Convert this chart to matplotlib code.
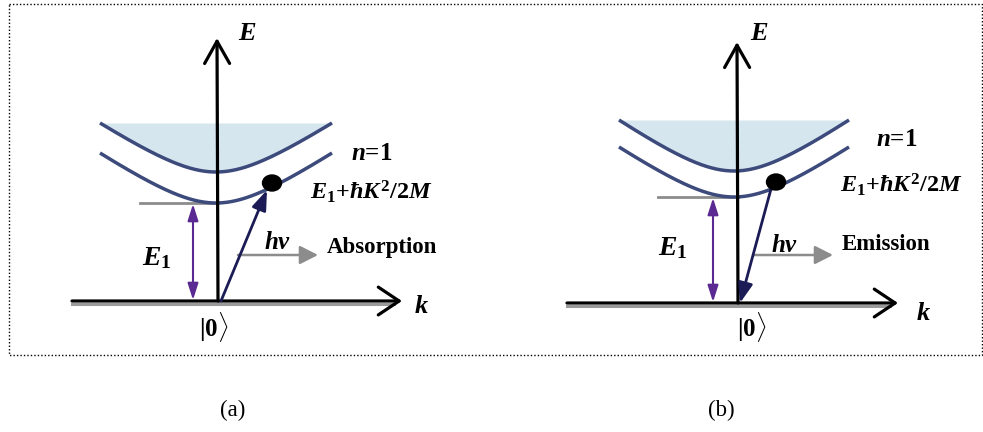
import matplotlib
matplotlib.use("Agg")
import matplotlib.pyplot as plt
import numpy as np
from matplotlib.patches import Ellipse, Rectangle

plt.rcParams["mathtext.fontset"] = "custom"
plt.rcParams["mathtext.it"] = "Liberation Serif:italic:bold"
plt.rcParams["mathtext.rm"] = "Liberation Serif:bold"
plt.rcParams["mathtext.bf"] = "Liberation Serif:bold"

# diagram geometry, in picture pixels (x right, y down)
panel_labels = ["(a)", "(b)"]
process_labels = ["Absorption", "Emission"]
origin_x = [218, 738]
kaxis_y = [301, 303]
kaxis_x0 = [72, 567]
kaxis_x1 = [402, 898]
eaxis_top = [38, 42]
band_center = [216, 734]
band_halfwidth = [116, 115]
upper_min = [172, 171]
upper_top = [123, 120]
lower_min = [203, 197]
lower_top = [153, 147]
dot_xy = [(272, 183), (776, 182)]
level_x0 = [140, 658]
e1_arrow_x = [193, 713]
hv_y = [255, 255]
hv_x0 = [238, 753]
hv_x1 = [318, 833]

BAND = "#3c4a7c"
FILL = "#d6e6ee"
GRAY = "#8c8c8c"
PURPLE = "#5a2a92"
NAVY = "#1b1b55"
SERIF = "Liberation Serif"


def band(xc, half, ymin, ytop, s=55.0):
    x = np.linspace(xc - half, xc + half, 200)
    a = (ymin - ytop) / (np.sqrt(1 + (half / s) ** 2) - 1)
    y = ymin - a * (np.sqrt(1 + ((x - xc) / s) ** 2) - 1)
    return x, y


fig = plt.figure(figsize=(9.83, 4.32), dpi=100)
ax = fig.add_axes([0, 0, 1, 1])
ax.set_xlim(0, 983)
ax.set_ylim(432, 0)
ax.axis("off")

# dotted frame
ax.add_patch(Rectangle((9, 4), 973, 351, fill=False, linestyle=(0, (1, 1.5)),
                       linewidth=1.0, edgecolor="black"))

for i in range(2):
    ox, ky = origin_x[i], kaxis_y[i]

    # bands
    xu, yu = band(band_center[i], band_halfwidth[i], upper_min[i], upper_top[i])
    ax.fill_between(xu, yu, upper_top[i], color=FILL, zorder=1, linewidth=0)
    ax.plot(xu, yu, color=BAND, lw=2.5, zorder=3, solid_capstyle="butt")
    xl, yl = band(band_center[i], band_halfwidth[i], lower_min[i], lower_top[i])
    ax.plot(xl, yl, color=BAND, lw=2.5, zorder=3, solid_capstyle="butt")

    # E1 level line
    ax.plot([level_x0[i], ox], [lower_min[i], lower_min[i]], color=GRAY, lw=2.0, zorder=2)

    # k axis with shadow
    ax.plot([kaxis_x0[i], kaxis_x1[i] - 8], [ky + 3, ky + 3], color="#9a9a9a", lw=2.2, zorder=2)
    ax.annotate("", xy=(kaxis_x1[i], ky), xytext=(kaxis_x0[i], ky),
                arrowprops=dict(arrowstyle="->,head_length=0.75,head_width=0.5",
                                lw=2.3, color="black", mutation_scale=20,
                                shrinkA=0, shrinkB=0), zorder=4)
    # E axis
    ax.annotate("", xy=(ox - 1, eaxis_top[i]), xytext=(ox, ky),
                arrowprops=dict(arrowstyle="->,head_length=0.8,head_width=0.45",
                                lw=2.3, color="black", mutation_scale=20,
                                shrinkA=0, shrinkB=0), zorder=4)

    # E1 double arrow
    ax.annotate("", xy=(e1_arrow_x[i], lower_min[i] + 1), xytext=(e1_arrow_x[i], ky - 1),
                arrowprops=dict(arrowstyle="<|-|>,head_length=0.5,head_width=0.16",
                                lw=1.5, color=PURPLE, mutation_scale=20,
                                shrinkA=0, shrinkB=0), zorder=4)

    # photon transition arrow
    dx, dy = dot_xy[i]
    if i == 0:
        start, end = (ox + 3, ky), (dx - 5, dy + 7)
    else:
        start, end = (dx - 5, dy + 7), (ox + 2, ky)
    ax.annotate("", xy=end, xytext=start,
                arrowprops=dict(arrowstyle="-|>,head_length=0.6,head_width=0.22",
                                lw=2.0, color=NAVY, mutation_scale=20,
                                shrinkA=0, shrinkB=0), zorder=5)

    # exciton dot
    ax.add_patch(Ellipse(dot_xy[i], 19, 16, color="black", zorder=6))

    # hv arrow
    ax.annotate("", xy=(hv_x1[i], hv_y[i]), xytext=(hv_x0[i], hv_y[i]),
                arrowprops=dict(arrowstyle="-|>,head_length=0.55,head_width=0.28",
                                lw=1.8, color=GRAY, mutation_scale=20,
                                shrinkA=0, shrinkB=0), zorder=4)

# labels
for x, y in [(247, 33), (759, 33)]:
    ax.text(x, y, r"$E$", fontsize=19, ha="center", va="center")
for x, y in [(421, 306), (923, 313)]:
    ax.text(x, y, r"$k$", fontsize=19, ha="center", va="center")
for x, y in [(372, 153), (897, 140)]:
    ax.text(x, y, r"$n$=1", fontsize=18, ha="center", va="center",
            family=SERIF, weight="bold")
for x, y in [(310, 192), (840, 185)]:
    ax.text(x, y, r"$E_{1}$+$\hbar K^{2}$/2$M$", fontsize=17.5, ha="left", va="center",
            family=SERIF, weight="bold")
for x, y in [(278, 242), (785, 245)]:
    ax.text(x, y, r"$h\nu$", fontsize=18, ha="center", va="center")
for i, (x, y) in enumerate([(327, 247), (842, 245)]):
    ax.text(x, y, process_labels[i], fontsize=16.5, ha="left", va="center",
            family=SERIF, weight="bold")
for x, y in [(157, 257), (673, 247)]:
    ax.text(x, y, r"$E_{1}$", fontsize=20, ha="center", va="center")
for x, y in [(214, 327), (752, 327)]:
    ax.text(x, y, r"$|\mathbf{0}\rangle$", fontsize=18, ha="center", va="center")
for i, (x, y) in enumerate([(233, 410), (721, 410)]):
    ax.text(x, y, panel_labels[i], fontsize=16.5, ha="center", va="center", family=SERIF)

fig.savefig("out.png", dpi=100)
